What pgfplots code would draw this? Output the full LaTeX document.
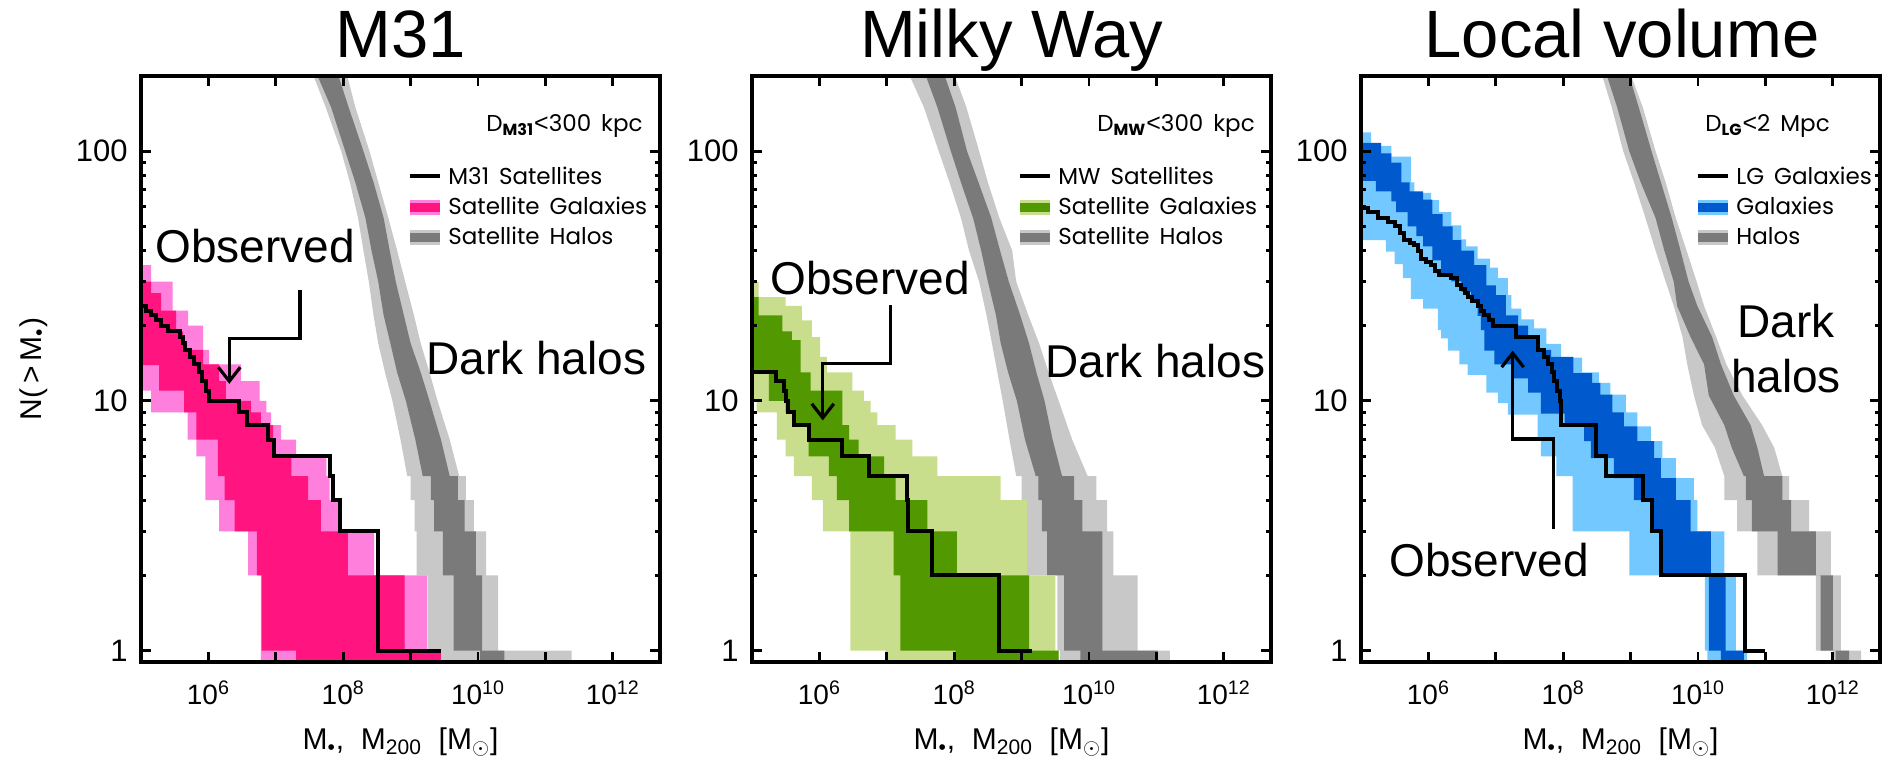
\documentclass[border=0pt]{standalone}
\usepackage{fontspec}
\setmainfont{Liberation Sans}
\newfontfamily\legfont{Poppins}
\newfontfamily\libfont{Liberation Sans}
\usepackage{pgfplots}
\pgfplotsset{compat=1.18}
\usetikzlibrary{arrows.meta}

\definecolor{pinkL}{RGB}{255,128,220}
\definecolor{pinkD}{RGB}{255,20,128}
\definecolor{greenL}{RGB}{200,222,140}
\definecolor{greenD}{RGB}{82,152,0}
\definecolor{blueL}{RGB}{115,200,255}
\definecolor{blueD}{RGB}{0,90,205}
\definecolor{greyL}{RGB}{200,200,200}
\definecolor{greyD}{RGB}{122,122,122}

\pgfplotsset{mypanel/.style={
  anchor=south west, scale only axis, width=259.5pt, height=293pt,
  xmin=5, xmax=12.7,
  xtick={5,6,...,12},
  xticklabels={,10\textsuperscript{6},,10\textsuperscript{8},,10\textsuperscript{10},,10\textsuperscript{12}},
  ytick={1,10,100}, yticklabels={1,10,100},
  minor ytick={2,3,4,5,6,7,8,9,20,30,40,50,60,70,80,90,200},
  tick align=inside, major tick length=5pt, minor tick length=2.5pt,
  tick style={line width=1.4pt, black},
  axis line style={line width=2pt},
  yticklabel style={font=\fontsize{15.5}{18}\selectfont, inner sep=0pt, xshift=-6.5pt},
  xticklabel style={font=\fontsize{14}{16}\selectfont, inner sep=0pt, anchor=north, yshift=-9pt},
  axis on top,
}}
\tikzset{arr/.style={line width=1.6pt, -{Straight Barb[length=7pt,width=11pt,line width=1.6pt]}},
  big/.style={font=\fontsize{23}{26}\selectfont}}
\newcommand{\lt}{{\libfont\fontsize{12.5}{14}\selectfont<}}

\begin{document}
\begin{tikzpicture}
\useasboundingbox (0,0) rectangle (943pt,-384.5pt);

% ---------------- Panel 1: M31 ----------------
\begin{axis}[mypanel, ymode=log, ymin=0.9, ymax=200, at={(70.5pt,-331pt)}]
\addplot[fill=greyL, draw=none] coordinates {(7.95,250)(8.06,200)(8.18,150)(8.39,100)(8.52,75)(8.67,54)(8.80,40)(8.92,30)(9.05,22)(9.15,17)(9.28,13)(9.40,10)(9.58,7)(9.72,5)(9.82,5)(9.82,4)(9.94,4)(9.94,3)(10.12,3)(10.12,2)(10.30,2)(10.30,1)(11.39,1)(11.39,0.8)(9.45,0.8)(9.45,1)(9.26,1)(9.26,2)(9.09,2)(9.09,3)(9.06,3)(9.06,4)(9.00,4)(9.00,5)(8.95,5)(8.85,7)(8.73,10)(8.62,13)(8.52,17)(8.45,22)(8.38,30)(8.30,40)(8.22,54)(8.10,75)(7.97,100)(7.74,150)(7.56,200)(7.40,250)};
\addplot[fill=greyD, draw=none] coordinates {(7.85,250)(7.93,200)(8.08,150)(8.30,100)(8.45,75)(8.60,54)(8.69,40)(8.78,30)(8.90,22)(9.00,17)(9.15,13)(9.28,10)(9.45,7)(9.58,5)(9.70,5)(9.70,4)(9.80,4)(9.80,3)(9.97,3)(9.97,2)(10.06,2)(10.06,1)(10.39,1)(10.39,0.8)(10.03,0.8)(10.03,1)(9.64,1)(9.64,2)(9.48,2)(9.48,3)(9.35,3)(9.35,4)(9.30,4)(9.30,5)(9.18,5)(9.07,7)(8.93,10)(8.80,13)(8.70,17)(8.60,22)(8.52,30)(8.42,40)(8.33,54)(8.18,75)(8.03,100)(7.82,150)(7.62,200)(7.50,250)};
\addplot[const plot, fill=pinkL, draw=none] coordinates {(4.9,35)(5.15,30)(5.47,23)(5.70,20)(5.92,16)(6.01,14)(6.48,12)(6.76,10)(6.86,9)(6.93,8)(7.08,7)(7.30,6)(7.75,5)(7.80,4)(7.94,3)(8.46,2)(9.25,1)(9.45,0.8)(6.78,2)(6.59,3)(6.16,4)(5.955,6)(5.82,7)(5.69,9)(5.15,11)(4.9,35)};
\addplot[const plot, fill=pinkD, draw=none] coordinates {(4.9,30)(5.15,27)(5.30,23)(5.52,19)(5.62,16)(5.92,14)(6.16,12)(6.26,10)(6.63,9)(6.78,8)(6.96,7)(7.00,6)(7.23,5)(7.48,4)(7.67,3)(8.07,2)(8.91,1)(9.45,0.8)(7.30,1)(6.79,2)(6.72,3)(6.39,4)(6.24,5)(6.14,7)(5.82,9)(5.64,11)(5.27,13.9)(4.9,30)};
\addplot[const plot, draw=black, line width=2pt, mark=none] coordinates {(4.95,24)(5.07,23)(5.15,22)(5.22,21)(5.30,20)(5.40,19)(5.58,18)(5.62,17)(5.66,16)(5.72,15)(5.79,14)(5.86,13)(5.91,12)(5.96,11)(6.01,10)(6.46,9)(6.58,8)(6.88,7)(6.98,6)(7.80,5)(7.85,4)(7.95,3)(8.51,1)(9.45,1)};
\draw[arr] (axis cs:7.36,27.7) -- (axis cs:7.36,17.8) -- (axis cs:6.31,17.8) -- (axis cs:6.31,11.7);
\end{axis}

% ---------------- Panel 2: Milky Way ----------------
\begin{axis}[mypanel, ymode=log, ymin=0.9, ymax=200, at={(376pt,-331pt)}]
\addplot[fill=greyL, draw=none] coordinates {(7.85,250)(8.01,200)(8.18,150)(8.37,100)(8.50,75)(8.67,54)(8.86,40)(8.92,30)(9.10,22)(9.26,17)(9.40,13)(9.55,10)(9.75,7)(9.98,5)(10.11,5)(10.11,4)(10.27,4)(10.27,3)(10.36,3)(10.36,2)(10.72,2)(10.72,1)(11.20,1)(11.20,0.8)(9.57,0.8)(9.57,1)(9.53,1)(9.53,2)(9.06,2)(9.06,3)(9.05,3)(9.05,4)(9.00,4)(9.00,5)(8.92,5)(8.82,7)(8.72,10)(8.64,13)(8.56,17)(8.48,22)(8.37,30)(8.22,40)(8.10,54)(7.93,75)(7.77,100)(7.55,150)(7.34,200)(7.15,250)};
\addplot[fill=greyD, draw=none] coordinates {(7.70,250)(7.86,200)(8.02,150)(8.19,100)(8.36,75)(8.55,54)(8.68,40)(8.81,30)(8.98,22)(9.11,17)(9.22,13)(9.34,10)(9.46,7)(9.60,5)(9.78,5)(9.78,4)(9.90,4)(9.90,3)(10.20,3)(10.20,1)(11.02,1)(11.02,0.8)(9.87,0.8)(9.87,1)(9.63,1)(9.63,2)(9.38,2)(9.38,3)(9.30,3)(9.30,4)(9.25,4)(9.25,5)(9.21,5)(9.05,7)(8.93,10)(8.80,13)(8.69,17)(8.62,22)(8.50,30)(8.40,40)(8.28,54)(8.10,75)(7.95,100)(7.75,150)(7.58,200)(7.40,250)};
\addplot[const plot, fill=greenL, draw=none] coordinates {(4.9,30)(5.10,26)(5.50,24)(5.74,21)(5.89,18)(6.01,15)(6.11,13)(6.49,11)(6.66,10)(6.76,9)(6.86,8)(7.13,7)(7.38,6)(7.75,5)(8.69,4)(9.08,2)(9.50,1)(9.55,0.8)(6.98,1)(6.46,3)(6.05,4)(5.89,5)(5.62,6)(5.50,7)(5.37,9)(5.07,10)(4.9,30)};
\addplot[const plot, fill=greenD, draw=none] coordinates {(4.9,26)(5.10,22)(5.45,19)(5.59,17.5)(5.72,13)(5.87,11)(6.34,8)(6.44,7)(6.58,6)(6.96,5)(7.13,4)(7.60,3)(8.04,2)(9.11,1)(9.55,0.8)(8.02,1)(7.20,2)(7.10,3)(6.44,4)(6.26,5)(6.14,6)(5.84,7)(5.82,8)(5.62,9)(5.50,10)(5.25,13)(4.9,26)};
\addplot[const plot, draw=black, line width=2pt, mark=none] coordinates {(4.95,13)(5.36,12)(5.47,11)(5.50,10)(5.54,9)(5.62,8)(5.84,7)(6.34,6)(6.73,5)(7.30,4)(7.31,3)(7.67,2)(8.66,1)(9.16,1)};
\draw[arr] (axis cs:7.05,24.1) -- (axis cs:7.05,14.1) -- (axis cs:6.05,14.1) -- (axis cs:6.05,8.35);
\end{axis}

% ---------------- Panel 3: Local volume ----------------
\begin{axis}[mypanel, ymode=log, ymin=0.9, ymax=200, at={(680.5pt,-331pt)}]
\addplot[fill=greyL, draw=none] coordinates {(8.92,250)(9.01,200)(9.18,150)(9.37,100)(9.52,75)(9.67,54)(9.83,40)(9.98,30)(10.09,24)(10.27,18)(10.42,14)(10.66,10.5)(10.95,8)(11.13,6.5)(11.25,5)(11.35,5)(11.35,4)(11.65,4)(11.65,3)(11.97,3)(11.97,2)(12.12,2)(12.12,1)(12.42,1)(12.42,0.8)(12.00,0.8)(12.00,1)(11.75,1)(11.75,2)(10.88,2)(10.88,3)(10.58,3)(10.58,4)(10.39,4)(10.39,5)(10.25,6.5)(10.06,8)(9.94,10.5)(9.84,14)(9.77,18)(9.64,24)(9.52,30)(9.37,40)(9.22,54)(9.05,75)(8.89,100)(8.72,150)(8.58,200)(8.45,250)};
\addplot[fill=greyD, draw=none] coordinates {(8.85,250)(8.98,200)(9.12,150)(9.31,100)(9.45,75)(9.61,54)(9.74,40)(9.86,30)(9.99,24)(10.21,18)(10.34,14)(10.53,10.5)(10.78,8)(10.88,6.5)(10.98,5)(11.25,5)(11.25,4)(11.38,4)(11.38,3)(11.75,3)(11.75,2)(12.00,2)(12.00,1)(12.24,1)(12.24,0.8)(12.04,0.8)(12.04,1)(11.82,1)(11.82,2)(11.18,2)(11.18,3)(10.80,3)(10.80,4)(10.71,4)(10.71,5)(10.68,5)(10.50,6.5)(10.39,8)(10.16,10.5)(10.09,14)(9.89,18)(9.69,24)(9.64,30)(9.50,40)(9.37,54)(9.15,75)(8.98,100)(8.80,150)(8.65,200)(8.55,250)};
\addplot[const plot, fill=blueL, draw=none] coordinates {(4.9,119)(5.15,105)(5.45,95)(5.74,75)(5.79,68)(6.04,63.6)(6.16,57)(6.34,50.4)(6.49,44.3)(6.56,41.6)(6.73,37.1)(6.91,34.2)(7.03,31)(7.18,26.5)(7.23,23.4)(7.38,21.2)(7.57,19.5)(7.75,16.9)(7.97,14.9)(8.28,13)(8.53,11.8)(8.70,10.6)(8.93,9)(9.10,7.9)(9.30,6.9)(9.47,5.9)(9.67,4.9)(9.94,4)(9.99,3)(10.39,2)(10.56,1)(10.73,0.8)(10.14,1)(10.10,2)(8.98,3)(8.14,5)(7.90,6)(7.67,7)(7.62,8.8)(7.18,9.8)(7.03,10.8)(6.86,12.7)(6.58,14)(6.46,15.9)(6.29,17.8)(6.19,19.2)(6.14,23.4)(5.92,25.6)(5.74,31)(5.62,35.3)(5.50,39.6)(5.37,44)(4.9,119)};
\addplot[const plot, fill=blueD, draw=none] coordinates {(4.9,108)(5.30,98)(5.45,90)(5.60,75)(5.72,69)(5.92,64)(6.06,56)(6.21,50)(6.36,44)(6.49,40)(6.68,35)(6.86,29)(7.00,26.5)(7.15,22)(7.33,20)(7.48,18)(7.62,16)(7.82,15)(8.15,12.9)(8.43,11.8)(8.55,10.6)(8.73,9)(8.90,7.9)(9.10,6.9)(9.35,5.9)(9.45,4.9)(9.67,4)(9.89,3)(10.19,2)(10.41,1)(10.68,0.8)(10.34,1)(10.16,2)(9.45,3)(9.30,4)(9.05,4.9)(8.75,5.9)(8.41,6.9)(8.31,7.9)(8.02,8.9)(7.67,10.8)(7.48,12.3)(7.23,14)(6.98,15.9)(6.83,19.2)(6.78,21.9)(6.73,24.8)(6.63,27.4)(6.49,30.1)(6.34,32)(6.19,36.5)(6.06,41.6)(5.92,45.7)(5.82,50)(5.69,57)(5.52,63)(5.45,69)(5.22,76)(4.9,108)};
\addplot[const plot, draw=black, line width=2pt, mark=none] coordinates {(4.95,59)(5.10,57)(5.25,54)(5.40,52)(5.50,50)(5.58,47)(5.64,44)(5.72,43)(5.79,42)(5.85,40)(5.89,37)(5.97,36)(6.04,35)(6.10,33)(6.16,32)(6.34,31)(6.42,29)(6.49,28)(6.55,27)(6.58,26)(6.65,25)(6.73,24)(6.78,23)(6.83,22)(6.90,21)(6.96,20)(7.30,18)(7.62,16)(7.72,15)(7.78,14)(7.83,13)(7.87,12)(7.91,11)(7.95,10)(7.97,8)(8.49,6)(8.64,5)(9.18,4)(9.31,3)(9.45,2)(10.69,1)(10.99,1)};
\draw[arr] (axis cs:7.86,3.06) -- (axis cs:7.86,7.03) -- (axis cs:7.25,7.03) -- (axis cs:7.25,15.9);
\end{axis}

% ---------------- Text, legends ----------------
\begin{scope}[x=0.5pt,y=-0.5pt]
\begin{scope}[font=\fontsize{33.5}{38}\selectfont]
\node[anchor=base] at (400.5,58) {M31};
\node[anchor=base] at (1011.5,58) {Milky Way};
\node[anchor=base] at (1622,58) {Local volume};
\end{scope}
\node[rotate=90, anchor=center, font=\fontsize{15}{18}\selectfont] at (34,369) {N(\,>\,M\textsubscript{•})};
\foreach \cx in {400.5,1011.5,1620.5}{
  \node[anchor=base, font=\fontsize{15}{18}\selectfont] at (\cx,750) {M\textsubscript{•},\ \ M\textsubscript{200}\ \ [M\textsubscript{$\odot$}]};
}
\node[big, anchor=base west, inner sep=0pt] at (155,263) {Observed};
\node[big, anchor=base west, inner sep=0pt] at (426,375) {Dark halos};
\node[big, anchor=base west, inner sep=0pt] at (770,295) {Observed};
\node[big, anchor=base west, inner sep=0pt] at (1045,378) {Dark halos};
\node[big, anchor=base west, inner sep=0pt] at (1389,577) {Observed};
\node[big, anchor=base, inner sep=0pt] at (1786,338) {Dark};
\node[big, anchor=base, inner sep=0pt] at (1786,393) {halos};
\begin{scope}[font=\legfont\fontsize{11.5}{13}\selectfont]
\node[anchor=base west, inner sep=0pt] at (486,132) {D\textsubscript{\bfseries M31}\lt300 \,kpc};
\node[anchor=base west, inner sep=0pt] at (1097,132) {D\textsubscript{\bfseries MW}\lt300 \,kpc};
\node[anchor=base west, inner sep=0pt] at (1705,132) {D\textsubscript{\bfseries LG}\lt2 \,Mpc};
\draw[line width=2pt] (410,176) -- (440,176);
\fill[pinkL] (410,200) rectangle (440,215); \fill[pinkD] (410,203) rectangle (440,212);
\fill[greyL] (410,230) rectangle (440,245); \fill[greyD] (410,233) rectangle (440,242);
\node[anchor=base west, inner sep=0pt] at (448,185) {M31 \,Satellites};
\node[anchor=base west, inner sep=0pt] at (448,215) {Satellite \,Galaxies};
\node[anchor=base west, inner sep=0pt] at (448,245) {Satellite \,Halos};
\draw[line width=2pt] (1020,176) -- (1050,176);
\fill[greenL] (1020,200) rectangle (1050,215); \fill[greenD] (1020,203) rectangle (1050,212);
\fill[greyL] (1020,230) rectangle (1050,245); \fill[greyD] (1020,233) rectangle (1050,242);
\node[anchor=base west, inner sep=0pt] at (1058,185) {MW \,Satellites};
\node[anchor=base west, inner sep=0pt] at (1058,215) {Satellite \,Galaxies};
\node[anchor=base west, inner sep=0pt] at (1058,245) {Satellite \,Halos};
\draw[line width=2pt] (1698,176) -- (1728,176);
\fill[blueL] (1698,200) rectangle (1728,215); \fill[blueD] (1698,203) rectangle (1728,212);
\fill[greyL] (1698,230) rectangle (1728,245); \fill[greyD] (1698,233) rectangle (1728,242);
\node[anchor=base west, inner sep=0pt] at (1736,185) {LG \,Galaxies};
\node[anchor=base west, inner sep=0pt] at (1736,215) {Galaxies};
\node[anchor=base west, inner sep=0pt] at (1736,245) {Halos};
\end{scope}
\end{scope}
\end{tikzpicture}
\end{document}
